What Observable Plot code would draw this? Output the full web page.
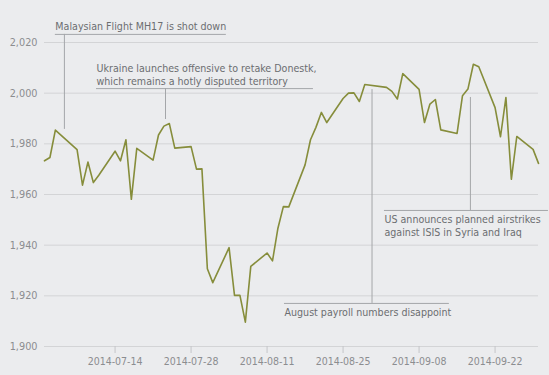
<!DOCTYPE html>
<html><head><meta charset="utf-8">
<script src="https://cdn.jsdelivr.net/npm/d3@7"></script>
<script src="https://cdn.jsdelivr.net/npm/@observablehq/plot@0.6"></script>
<style>
body{margin:0;background:#ebecee;}
#chart svg{display:block;background:#ebecee;}
</style>
</head><body><div id="chart"></div>
<script>
const dates = [
"2014-07-01","2014-07-02","2014-07-03","2014-07-07","2014-07-08","2014-07-09","2014-07-10","2014-07-11",
"2014-07-14","2014-07-15","2014-07-16","2014-07-17","2014-07-18","2014-07-21","2014-07-22","2014-07-23",
"2014-07-24","2014-07-25","2014-07-28","2014-07-29","2014-07-30","2014-07-31",
"2014-08-01","2014-08-04","2014-08-05","2014-08-06","2014-08-07","2014-08-08","2014-08-11","2014-08-12",
"2014-08-13","2014-08-14","2014-08-15","2014-08-18","2014-08-19","2014-08-20","2014-08-21","2014-08-22",
"2014-08-25","2014-08-26","2014-08-27","2014-08-28","2014-08-29",
"2014-09-02","2014-09-03","2014-09-04","2014-09-05","2014-09-08","2014-09-09","2014-09-10","2014-09-11",
"2014-09-12","2014-09-15","2014-09-16","2014-09-17","2014-09-18","2014-09-19","2014-09-22","2014-09-23",
"2014-09-24","2014-09-25","2014-09-26","2014-09-29","2014-09-30"
];
const closes = [
1973.3,1974.6,1985.4,1977.7,1963.7,1972.8,1964.7,1967.6,
1977.1,1973.3,1981.6,1958.1,1978.2,1973.6,1983.5,1987.0,
1988.0,1978.3,1978.9,1970.0,1970.1,1930.7,
1925.2,1939.0,1920.2,1920.2,1909.6,1931.6,1936.9,1933.8,
1946.7,1955.2,1955.1,1971.7,1981.6,1986.5,1992.4,1988.4,
1997.9,2000.0,2000.1,1996.7,2003.4,
2002.3,2000.7,1997.7,2007.7,2001.5,1988.4,1995.7,1997.5,
1985.5,1984.1,1999.0,2001.6,2011.4,2010.4,1994.3,1982.8,
1998.3,1966.0,1982.9,1977.8,1972.3
];
const yTicks = [1900, 1920, 1940, 1960, 1980, 2000, 2020];
const xTicks = ["2014-07-14","2014-07-28","2014-08-11","2014-08-25","2014-09-08","2014-09-22"];

// annotations
const noteLabels = [
  "Malaysian Flight MH17 is shot down",
  "Ukraine launches offensive to retake Donestk,\nwhich remains a hotly disputed territory",
  "August payroll numbers disappoint",
  "US announces planned airstrikes\nagainst ISIS in Syria and Iraq"
];
const noteStart = ["2014-07-03T00:00Z","2014-07-10T14:00Z","2014-08-14T05:00Z","2014-09-01T15:00Z"];
const noteEnd   = ["2014-08-03T12:00Z","2014-08-19T13:00Z","2014-09-13T14:00Z","2014-10-01T20:00Z"];
const notePin   = ["2014-07-04T16:00Z","2014-07-23T07:00Z","2014-08-30T08:00Z","2014-09-17T11:00Z"];
const noteLineY = [2023.2, 2001.8, 1917.0, 1953.7];
const notePinEnd = [1985.7, 1989.6, 2001.4, 1998.3];
const noteTextY = [2026.7, 2007.6, 1913.6, 1948.0];

const series = dates.map((d, i) => ({date: new Date(d), close: closes[i]}));
const notes = noteLabels.map((t, i) => ({
  text: t, x1: new Date(noteStart[i]), x2: new Date(noteEnd[i]), pin: new Date(notePin[i]),
  ly: noteLineY[i], py: notePinEnd[i], ty: noteTextY[i]
}));

const FONT = "'DejaVu Sans Condensed','DejaVu Sans',sans-serif";
const chart = Plot.plot({
  width: 549, height: 375,
  marginLeft: 44, marginRight: 11, marginTop: 42, marginBottom: 29,
  style: {background: "#ebecee", fontFamily: FONT, fontSize: "10.5px", overflow: "visible"},
  x: {type: "utc", domain: [new Date("2014-07-01"), new Date("2014-09-30")]},
  y: {domain: [1900, 2020]},
  marks: [
    Plot.ruleY(yTicks, {stroke: "#d3d4d6", strokeWidth: 1}),
    Plot.axisY({ticks: yTicks, tickFormat: d3.format(","), tickSize: 0, tickPadding: 7,
      fill: "#8b8d90", fontSize: 10.8, label: null}),
    Plot.axisX({ticks: xTicks.map(d => new Date(d)), tickFormat: d3.utcFormat("%Y-%m-%d"),
      tickSize: 7, tickPadding: 4, stroke: "#c4c5c8", fill: "#8b8d90", fontSize: 10.5, label: null}),
    Plot.ruleY(notes, {y: "ly", x1: "x1", x2: "x2", stroke: "#a4a6a9", clip: false}),
    Plot.ruleX(notes, {x: "pin", y1: "ly", y2: "py", stroke: "#a4a6a9", clip: false}),
    Plot.text(notes, {x: "x1", y: "ty", text: "text", textAnchor: "start", lineAnchor: "middle",
      lineHeight: 1.24, fill: "#6b6e71", fontSize: 10.6, clip: false}),
    Plot.line(series, {x: "date", y: "close", stroke: "#868d3b", strokeWidth: 1.6})
  ]
});
document.getElementById("chart").append(chart);
</script>
</body></html>
